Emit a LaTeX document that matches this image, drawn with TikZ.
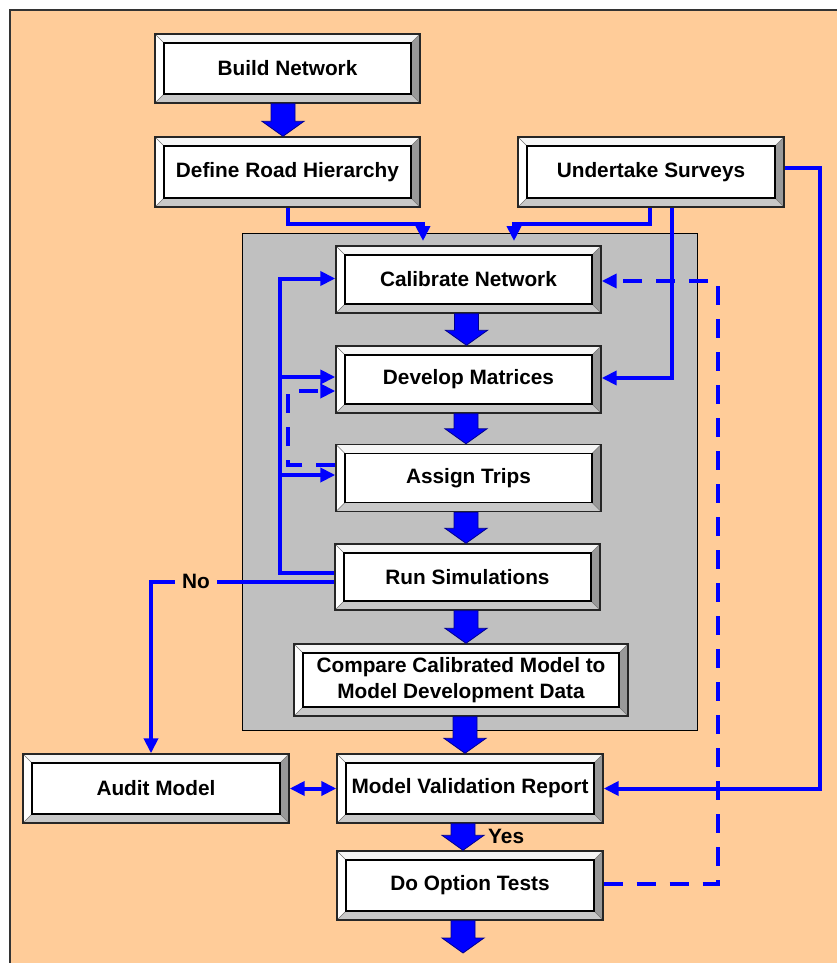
\documentclass[tikz,border=0pt]{standalone}
\usepackage{fontspec}
\setmainfont{Liberation Sans}
\usetikzlibrary{arrows.meta,calc}
\definecolor{peach}{HTML}{FFCC99}
\definecolor{panelgray}{HTML}{C0C0C0}
\definecolor{bevdark}{HTML}{999999}
\definecolor{bevmid}{HTML}{C8C8C8}
\definecolor{bevlight}{HTML}{F6F6F6}
\definecolor{lnblue}{HTML}{0000FF}
\tikzset{
 bevelbox/.style={draw=black!85, line width=1.4pt, inner sep=0pt, align=center,
   font=\bfseries\fontsize{20.8pt}{27pt}\selectfont,
   path picture={
     \fill[bevlight] (path picture bounding box.north west) -- (path picture bounding box.north east)
        -- ([shift={(-9pt,-9pt)}]path picture bounding box.north east) -- ([shift={(9pt,-9pt)}]path picture bounding box.north west) -- cycle;
     \fill[white] (path picture bounding box.north west) -- ([shift={(9pt,-9pt)}]path picture bounding box.north west)
        -- ([shift={(9pt,9pt)}]path picture bounding box.south west) -- (path picture bounding box.south west) -- cycle;
     \fill[bevdark] (path picture bounding box.north east) -- (path picture bounding box.south east)
        -- ([shift={(-9pt,9pt)}]path picture bounding box.south east) -- ([shift={(-9pt,-9pt)}]path picture bounding box.north east) -- cycle;
     \fill[bevmid] (path picture bounding box.south west) -- (path picture bounding box.south east)
        -- ([shift={(-9pt,9pt)}]path picture bounding box.south east) -- ([shift={(9pt,9pt)}]path picture bounding box.south west) -- cycle;
     \draw[black!55, line width=0.6pt] (path picture bounding box.north west) -- ([shift={(9pt,-9pt)}]path picture bounding box.north west)
        (path picture bounding box.north east) -- ([shift={(-9pt,-9pt)}]path picture bounding box.north east)
        (path picture bounding box.south west) -- ([shift={(9pt,9pt)}]path picture bounding box.south west)
        (path picture bounding box.south east) -- ([shift={(-9pt,9pt)}]path picture bounding box.south east);
     \draw[black, line width=1.1pt, fill=white] ([shift={(9pt,-9pt)}]path picture bounding box.north west)
        rectangle ([shift={(-9pt,9pt)}]path picture bounding box.south east);
   }},
 conn/.style={draw=lnblue, line width=4pt},
 tip/.style={-{Triangle[length=15pt,width=14pt]}},
 dashconn/.style={conn, dash pattern=on 19pt off 14pt},
 blockarr/.style={fill=lnblue, draw=blue!55!black, line width=0.8pt},
 lbl/.style={font=\bfseries\fontsize{20.8pt}{26pt}\selectfont, inner sep=0pt}
}
\newcommand\blockarrow[2]{%
 \path[blockarr] let \p1=(#1), \p2=(#2) in
 (\x1-12pt,\y1) -- (\x1+12pt,\y1) -- (\x1+12pt,\y2+15pt) -- (\x1+21pt,\y2+15pt) -- (\x1,\y2)
 -- (\x1-21pt,\y2+15pt) -- (\x1-12pt,\y2+15pt) -- cycle;}
\begin{document}
\begin{tikzpicture}[x=1pt,y=-1pt]
\useasboundingbox (0,0) rectangle (837,963);
% background
\fill[white] (0,0) rectangle (837,963);
\fill[peach] (10,10) rectangle (837,963);
\draw[black!80, line width=1.5pt] (10,963) -- (10,10) -- (837,10);
% gray panel
\node[draw=black, fill=panelgray, line width=1pt, minimum width=455pt, minimum height=497pt, inner sep=0pt] (panel) at (469.5,481.5) {};
% boxes
\node[bevelbox, minimum width=265pt, minimum height=69pt] (bn) at (287.5,68.5) {Build Network};
\node[bevelbox, minimum width=265pt, minimum height=70pt] (drh) at (287.5,172) {Define Road Hierarchy};
\node[bevelbox, minimum width=266pt, minimum height=70pt] (us) at (651,172) {Undertake Surveys};
\node[bevelbox, minimum width=265pt, minimum height=67pt] (cn) at (468.5,279.5) {Calibrate Network};
\node[bevelbox, minimum width=265pt, minimum height=67pt] (dm) at (468.5,379.5) {Develop Matrices};
\node[bevelbox, minimum width=265pt, minimum height=67pt] (at) at (468.5,478) {Assign Trips};
\node[bevelbox, minimum width=265pt, minimum height=66pt] (rs) at (467.5,577) {Run Simulations};
\node[bevelbox, minimum width=334pt, minimum height=72pt] (cmp) at (461,680) {Compare Calibrated Model to\\[-1pt]Model Development Data};
\node[bevelbox, minimum width=266pt, minimum height=69pt] (am) at (156,788.5) {Audit Model};
\node[bevelbox, minimum width=266pt, minimum height=69pt] (mvr) at (470,788.5) {Model Validation Report};
\node[bevelbox, minimum width=266pt, minimum height=69pt] (dot) at (470,885.5) {Do Option Tests};
% coordinates
\coordinate (p1) at (423,241);
\coordinate (p2) at (514,241);
\coordinate (lx) at (280,0);
\coordinate (fin) at (463,953);
% labels
\node[lbl, fill=peach, inner xsep=7pt, inner ysep=2pt] (no) at (196,581.5) {No};
\node[lbl, anchor=west] (yes) at (488,836) {Yes};
% connectors
\draw[conn, tip] (drh.south) -- ++(0,16) -| (p1);
\draw[conn, tip] ([xshift=-1pt]us.south) -- ++(0,16) -| (p2);
\draw[conn, tip] ([xshift=21pt]us.south) |- ([yshift=1.5pt]dm.east);
\draw[conn, tip] ([yshift=4pt]us.east) -- ++(35,0) |- (mvr.east);
\draw[dashconn, tip] ([yshift=2pt]dot.east) -- ++(114,0) |- ([yshift=-1.5pt]cn.east);
\draw[conn, tip] ([yshift=4pt]rs.west) -| ([yshift=1pt]cn.west -| lx) -- ([yshift=1pt]cn.west);
\draw[conn, tip] ([yshift=2.5pt]dm.west -| lx) -- ([yshift=2.5pt]dm.west);
\draw[conn, tip] ([yshift=3pt]at.west -| lx) -- ([yshift=3pt]at.west);
\draw[dashconn, tip] ([yshift=13pt]at.west) -- ++(-47,0) |- ([yshift=-11.5pt]dm.west);
\draw[conn] ([yshift=-4.5pt]rs.west) -- (no.east);
\draw[conn, tip] (no.west) -| ([xshift=-5pt]am.north);
\draw[conn, {Triangle[length=15pt,width=14pt]}-{Triangle[length=15pt,width=14pt]}] (am.east) -- (mvr.west);
% block arrows
\blockarrow{[xshift=-4.5pt]bn.south}{drh.north}
\blockarrow{[xshift=-2pt]cn.south}{dm.north}
\blockarrow{[xshift=-2.5pt]dm.south}{at.north}
\blockarrow{[xshift=-2.5pt]at.south}{rs.north}
\blockarrow{[xshift=-1.5pt]rs.south}{cmp.north}
\blockarrow{[xshift=4pt]cmp.south}{mvr.north}
\blockarrow{[xshift=-7pt]mvr.south}{dot.north}
\blockarrow{[xshift=-7pt]dot.south}{fin}
\end{tikzpicture}
\end{document}
